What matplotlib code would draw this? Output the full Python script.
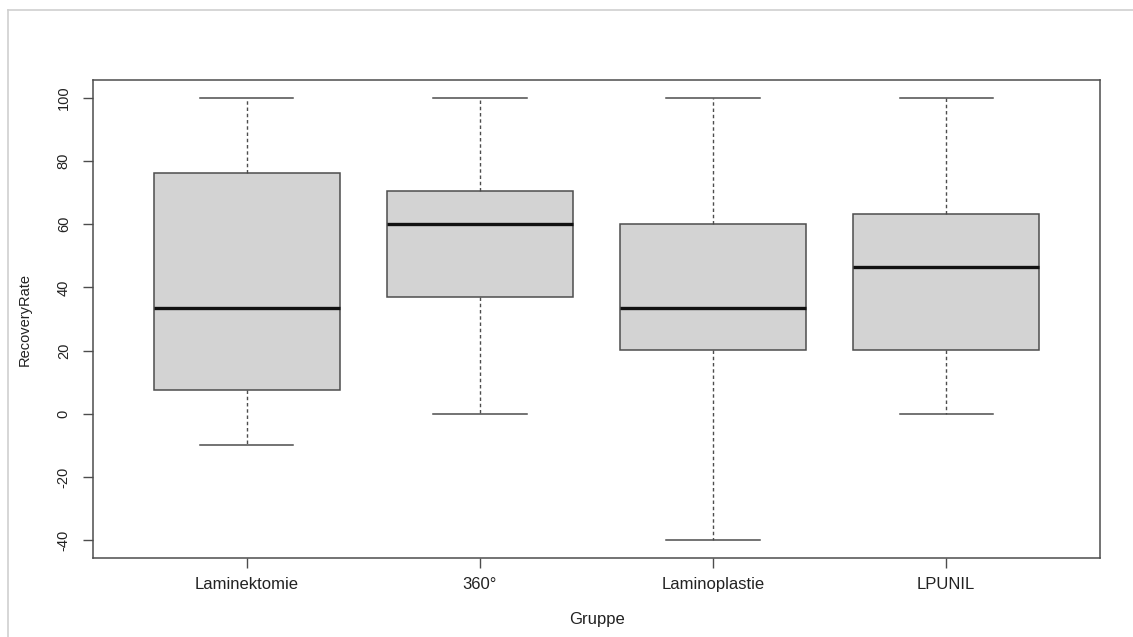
import matplotlib.pyplot as plt
from matplotlib.lines import Line2D

plt.rcParams['font.family'] = ['Liberation Sans', 'DejaVu Sans']
plt.rcParams['axes.unicode_minus'] = False

# five-number summaries per group
groups = ['Laminektomie', '360°', 'Laminoplastie', 'LPUNIL']
whisker_low = [-10, 0, -40, 0]
q1 = [7.4, 37.1, 20.1, 20.1]
median = [33.6, 60.1, 33.4, 46.4]
q3 = [76.1, 70.6, 60.0, 63.3]
whisker_high = [100, 100, 100, 100]

stats = []
for i, g in enumerate(groups):
    stats.append(dict(label=g, whislo=whisker_low[i], q1=q1[i], med=median[i],
                      q3=q3[i], whishi=whisker_high[i], fliers=[]))

W, H = 1133, 637
fig = plt.figure(figsize=(W / 100, H / 100), dpi=100)
ax = fig.add_axes([93 / W, (H - 558) / H, (1100 - 93) / W, (558 - 80) / H])

edge = '#4d4d4d'
ax.bxp(stats, positions=[1, 2, 3, 4], widths=0.8, patch_artist=True,
       showfliers=False,
       boxprops=dict(facecolor='#d3d3d3', edgecolor=edge, linewidth=1.1),
       medianprops=dict(color='#111111', linewidth=2.4, solid_capstyle='butt'),
       whiskerprops=dict(color=edge, linewidth=1.0, linestyle=(0, (2.5, 2))),
       capprops=dict(color=edge, linewidth=1.1),
       capwidths=0.4)

ax.set_xlim(0.34, 4.66)
ax.set_ylim(-45.6, 105.6)
ax.set_yticks([-40, -20, 0, 20, 40, 60, 80, 100])
ax.set_xticks([1, 2, 3, 4])
ax.set_xticklabels(groups, fontsize=12, color='#222222')
for lbl in ax.get_yticklabels():
    lbl.set_rotation(90)
    lbl.set_va('center')
    lbl.set_fontsize(10.5)
    lbl.set_color('#222222')

ax.tick_params(axis='both', length=7, width=1.0, color=edge)
ax.tick_params(axis='x', pad=7)
ax.tick_params(axis='y', pad=9)
for s in ax.spines.values():
    s.set_color(edge)
    s.set_linewidth(1.1)

ax.set_xlabel('Gruppe', fontsize=12, color='#222222', labelpad=14)
ax.set_ylabel('RecoveryRate', fontsize=10.5, color='#222222', labelpad=18)

# light frame around the plot region
fig.add_artist(Line2D([8 / W, 8 / W], [0, 1 - 10 / H], color='#cfcfcf', linewidth=1.2))
fig.add_artist(Line2D([8 / W, 1], [1 - 10 / H, 1 - 10 / H], color='#cfcfcf', linewidth=1.2))

fig.savefig('out.png', dpi=100)
